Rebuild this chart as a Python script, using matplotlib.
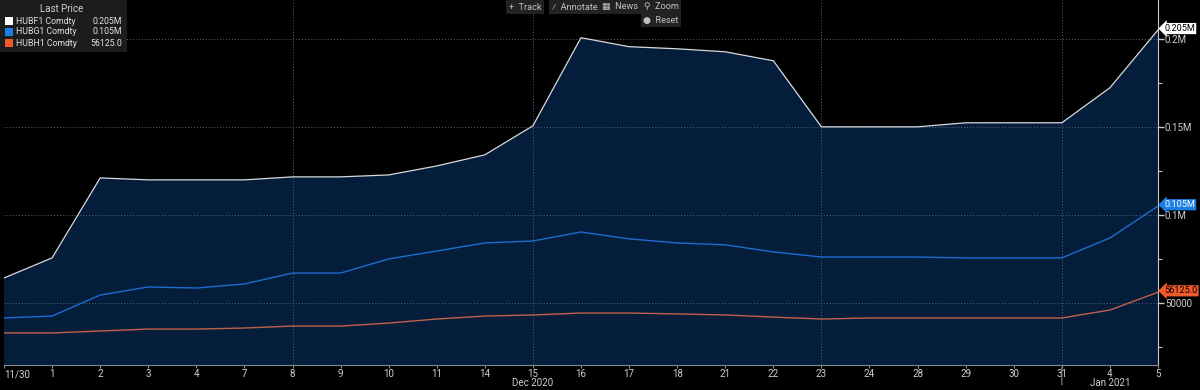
""" Bloomberg style chart of HUBF1, HUBG1 and HUBH1 last price """

# Import libary
import matplotlib
matplotlib.use("Agg")
import matplotlib.pyplot as plt
from matplotlib.patches import Rectangle

# Roboto for text, DejaVu for the symbols
plt.rcParams["font.family"] = ["Roboto", "DejaVu Sans"]

# Dates on the x axis
DATES = ["11/30", "1", "2", "3", "4", "7", "8", "9", "10", "11", "14", "15", "16",
         "17", "18", "21", "22", "23", "24", "28", "29", "30", "31", "4", "5"]

# Last price of each contract
HUBF1 = [64200, 75600, 121000, 119900, 119900, 119900, 121600, 121600, 122700, 127800,
         134100, 150600, 200600, 195500, 194300, 192600, 187500, 150000, 150000, 150000,
         152300, 152300, 152300, 172200, 205000]
HUBG1 = [41500, 42600, 54500, 59100, 58500, 60800, 67000, 67000, 75000, 79500,
         84100, 85200, 90300, 86400, 84100, 83000, 79000, 76100, 76100, 76100,
         75600, 75600, 75600, 86900, 105000]
HUBH1 = [33000, 33000, 34100, 35200, 35200, 35800, 36900, 36900, 38600, 40900,
         42600, 43200, 44300, 44300, 43800, 43200, 42000, 40900, 41500, 41500,
         41500, 41500, 41500, 46000, 56125]

# Y axis ticks
Y_TICKS = [50000, 100000, 150000, 200000]
Y_LABELS = ["50000", "0.1M", "0.15M", "0.2M"]
Y_MINOR = [25000, 75000, 125000, 175000]

# Weekly gridlines and month labels
GRID_DATES = [6, 11, 17, 22]
MONTHS = [(11, "Dec 2020"), (23, "Jan 2021")]

# Legend and tags
NAMES = ["HUBF1 Comdty", "HUBG1 Comdty", "HUBH1 Comdty"]
LAST = ["0.205M", "0.105M", "56125.0"]
LINE_COLORS = ["#d9d9d9", "#1f6bd0", "#c0604c"]
TAG_COLORS = ["#ffffff", "#1a7fe8", "#f0592a"]
TAG_TEXT = ["#000000", "#ffffff", "#000000"]

FILL = "#031d3b"
GRID = "#55657a"
TXT = "#d0d0d0"
FS = 6.6

X = list(range(len(DATES)))

fig = plt.figure(figsize=(12, 3.9), dpi=100, facecolor="black")
ax = fig.add_axes([4 / 1200, 25 / 390, 1154 / 1200, 365 / 390])
ax.set_facecolor("black")

# Area under the main series
ax.fill_between(X, HUBF1, 0, color=FILL, zorder=1)
ax.plot(X, HUBF1, color=LINE_COLORS[0], lw=0.9, zorder=4)
ax.plot(X, HUBG1, color=LINE_COLORS[1], lw=1.0, zorder=4)
ax.plot(X, HUBH1, color=LINE_COLORS[2], lw=1.0, zorder=4)

ax.set_xlim(0, len(DATES) - 1)
ax.set_ylim(14800, 222000)

# Gridlines
for y in Y_TICKS:
    ax.axhline(y, color=GRID, ls=(0, (1, 2)), lw=0.7, zorder=2)
for i in GRID_DATES:
    ax.axvline(i, color=GRID, ls=(0, (1, 2)), lw=0.7, zorder=2)

# Axes style
for s in ["top", "left"]:
    ax.spines[s].set_visible(False)
ax.spines["right"].set_color("#c8c8c8")
ax.spines["bottom"].set_color("#8a8a8a")
ax.yaxis.tick_right()
ax.set_yticks(Y_TICKS)
ax.set_yticklabels(Y_LABELS)
ax.set_yticks(Y_MINOR, minor=True)
ax.tick_params(axis="y", which="major", colors="#c8c8c8", labelcolor=TXT, labelsize=FS + 0.4,
               length=4, width=1, pad=1)
ax.tick_params(axis="y", which="minor", colors="#c8c8c8", length=3, width=0.8)
ax.set_xticks(X)
ax.set_xticklabels(DATES)
ax.tick_params(axis="x", colors="#8a8a8a", labelcolor=TXT, labelsize=FS + 0.4, length=2, pad=1)
first = ax.get_xticklabels()[0]
first.set_horizontalalignment("left")
first.set_x(-0.003)

# Month labels under axis
for i, m in MONTHS:
    ax.annotate(m, (i, 0), xycoords=("data", "axes fraction"), xytext=(0, -9),
                textcoords="offset points", ha="center", va="top", color=TXT, fontsize=FS + 0.4)
ax.annotate("", (22, 0), xycoords=("data", "axes fraction"), xytext=(22, -0.062),
            textcoords=("data", "axes fraction"),
            arrowprops=dict(arrowstyle="-", color="#8a8a8a", lw=0.8), annotation_clip=False)

# Last price tags on the right
for vals, txt, bg, fg in zip([HUBF1, HUBG1, HUBH1], LAST, TAG_COLORS, TAG_TEXT):
    ax.annotate(txt, (len(DATES) - 1, vals[-1]), xytext=(4.5, 1), textcoords="offset points",
                ha="left", va="center", fontsize=FS, color=fg, annotation_clip=False, zorder=6,
                bbox=dict(boxstyle="larrow,pad=0.12", fc=bg, ec="none"))

# Legend box
fig.patches.append(Rectangle((0, 1 - 52 / 390), 127 / 1200, 52 / 390, transform=fig.transFigure,
                             fc="#1c1c1c", ec="none", zorder=1))
fig.text(62 / 1200, 1 - 9 / 390, "Last Price", color=TXT, fontsize=FS + 0.4, ha="center",
         va="center")
for k in range(3):
    y = 1 - (21 + 11 * k) / 390
    fig.patches.append(Rectangle((5 / 1200, y - 4 / 390), 8 / 1200, 8 / 390,
                                 transform=fig.transFigure, fc=TAG_COLORS[k], ec="none", zorder=2))
    fig.text(16 / 1200, y, NAMES[k], color="#e0e0e0", fontsize=FS - 0.3, ha="left", va="center")
    fig.text(122 / 1200, y, LAST[k], color="#e0e0e0", fontsize=FS - 0.3, ha="right", va="center")

# Toolbar buttons
BUTTONS = [("+  Track", 525, 7), ("⁄  Annotate", 575, 7), ("▦  News", 620, 7), ("⚲  Zoom", 661, 7),
           ("●  Reset", 661, 20)]
for label, bx, by in BUTTONS:
    fig.text(bx / 1200, 1 - by / 390, label, color="#c0c0c0", fontsize=FS, ha="center",
             va="center", bbox=dict(boxstyle="square,pad=0.3", fc="#222222", ec="none"))

fig.savefig("out.png", dpi=100, facecolor="black")
